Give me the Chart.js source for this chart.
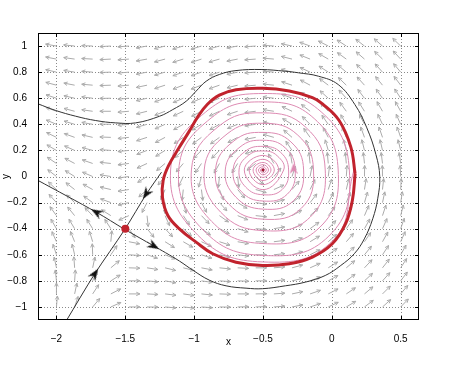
<!DOCTYPE html>
<html>
<head>
<meta charset="utf-8">
<script src="https://cdn.jsdelivr.net/npm/chart.js@4.4.0/dist/chart.umd.min.js"></script>
<style>
  html, body { margin: 0; padding: 0; background: #fff; }
</style>
</head>
<body>
<canvas id="chart" width="461" height="369"></canvas>
<script>
// axis ticks
const xTicks = [-2, -1.5, -1, -0.5, 0, 0.5];
const yTicks = [-1, -0.8, -0.6, -0.4, -0.2, 0, 0.2, 0.4, 0.6, 0.8, 1];

// direction field: grid columns / rows and arrow angle (deg, ccw) read per cell
const fieldX = [-2.000, -1.868, -1.737, -1.605, -1.474, -1.342, -1.211, -1.079, -0.947, -0.816,
                -0.684, -0.553, -0.421, -0.289, -0.158, -0.026, 0.105, 0.237, 0.368, 0.500];
const fieldY = [1.0, 0.9, 0.8, 0.7, 0.6, 0.5, 0.4, 0.3, 0.2, 0.1, 0.0,
                -0.1, -0.2, -0.3, -0.4, -0.5, -0.6, -0.7, -0.8, -0.9, -1.0];
const fieldDeg = [
  [170,174,178,183,184,190,194,196,197,195,190,184,176,168,160,153,147,142,139,136],
  [169,172,177,183,184,190,195,197,198,196,191,184,175,166,158,150,144,139,136,133],
  [167,171,176,182,185,191,196,199,199,198,192,184,175,165,155,147,140,136,132,130],
  [165,169,175,182,185,192,198,201,201,199,194,185,174,162,152,143,136,132,129,127],
  [162,167,173,181,185,193,199,203,204,202,196,186,173,159,148,138,132,127,125,123],
  [160,165,172,180,185,194,201,205,207,205,198,187,171,155,142,133,126,122,120,119],
  [157,163,170,179,185,196,204,209,211,209,202,188,168,149,135,125,120,117,115,114],
  [154,160,167,178,186,198,208,214,217,216,208,191,164,139,125,117,112,110,109,109],
  [150,156,165,176,186,201,212,220,225,225,218,197,153,124,112,106,104,104,103,104],
  [146,152,161,174,187,205,220,230,237,241,239,218,120, 99, 96, 95, 95, 96, 97, 98],
  [142,148,157,171,188,212,230,244,255,264,276,314, 50, 72, 79, 83, 86, 89, 91, 93],
  [137,142,151,167,189,222,247,264,277,291,310,344, 24, 50, 64, 72, 77, 81, 84, 87],
  [132,136,144,160,193,243,270,285,298,312,329,351, 15, 37, 52, 62, 69, 74, 78, 81],
  [126,129,134,148,204,276,294,304,314,325,338,354, 11, 29, 43, 53, 61, 67, 72, 76],
  [120,121,122,123,305,309,313,318,325,333,343,355,  9, 23, 36, 47, 55, 61, 66, 71],
  [114,112,107, 85,349,330,328,330,335,342,350,358,  7, 20, 31, 41, 49, 56, 61, 66],
  [108,103, 92, 56,356,342,338,339,342,348,353,359,  6, 17, 27, 36, 44, 51, 57, 61],
  [102, 94, 78, 40,358,351,346,346,349,354,357,  0,  5, 15, 24, 32, 40, 47, 52, 57],
  [ 96, 86, 66, 32,  0,355,350,350,352,356,358,  0,  5, 13, 21, 29, 37, 43, 48, 53],
  [ 90, 78, 57, 27,  0,357,353,352,354,358,  0,  1,  4, 12, 19, 27, 34, 40, 45, 50],
  [ 85, 72, 50, 24,  0,359,355,354,356,359,  1,  2,  4, 11, 18, 25, 31, 37, 42, 46]
];

// equilibria
const saddleX = [-1.5], saddleY = [-0.4];
const focusX = [-0.5], focusY = [0.05];

// limit cycle (red)
const cycleX = [0.169, 0.149, 0.100, 0.003, -0.141, -0.309, -0.503, -0.696, -0.865, -0.986, -1.107, -1.191,
                -1.230, -1.225, -1.185, -1.110, -1.035, -0.975, -0.905, -0.817, -0.696, -0.503, -0.309,
                -0.141, -0.068, 0.053, 0.138, 0.169];
const cycleY = [0.021, -0.184, -0.362, -0.516, -0.618, -0.669, -0.682, -0.657, -0.592, -0.503, -0.401, -0.299,
                -0.160, -0.030, 0.085, 0.220, 0.348, 0.455, 0.552, 0.624, 0.665, 0.676, 0.655,
                0.605, 0.557, 0.429, 0.225, 0.021];

// spiral leaving the focus (pink)
const spiralX = [
  -0.487, -0.500, -0.519, -0.500,  -0.476, -0.500, -0.533, -0.500,
  -0.460, -0.500, -0.550, -0.500,  -0.442, -0.500, -0.572, -0.500,
  -0.418, -0.500, -0.601, -0.500,  -0.386, -0.500, -0.636, -0.500,
  -0.350, -0.397, -0.500, -0.606, -0.674, -0.625, -0.500, -0.360,
  -0.314, -0.372, -0.500, -0.633, -0.717, -0.657, -0.500, -0.324,
  -0.266, -0.339, -0.500, -0.667, -0.774, -0.697, -0.500, -0.278,
  -0.205, -0.297, -0.500, -0.711, -0.845, -0.748, -0.500, -0.222,
  -0.133, -0.247, -0.500, -0.761, -0.927, -0.807, -0.500, -0.158,
  -0.048, -0.190, -0.500, -0.819, -1.020, -0.873, -0.500, -0.086,
   0.046, -0.128, -0.500, -0.877, -1.112, -0.935, -0.500, -0.021,
   0.127, -0.078, -0.500, -0.919, -1.171, -0.973, -0.500,  0.009,
   0.161];
const spiralY = [
  0.050, 0.064, 0.050, 0.027,  0.050, 0.075, 0.050, 0.012,
  0.050, 0.091, 0.050, -0.007, 0.050, 0.108, 0.050, -0.031,
  0.050, 0.132, 0.050, -0.063, 0.050, 0.162, 0.050, -0.101,
  0.050, 0.159, 0.196, 0.162, 0.050, -0.082, -0.140, -0.099,
  0.050, 0.185, 0.231, 0.190, 0.050, -0.116, -0.188, -0.136,
  0.050, 0.220, 0.278, 0.226, 0.050, -0.158, -0.250, -0.185,
  0.050, 0.265, 0.338, 0.273, 0.050, -0.212, -0.327, -0.244,
  0.050, 0.317, 0.408, 0.326, 0.050, -0.274, -0.415, -0.312,
  0.050, 0.378, 0.488, 0.387, 0.050, -0.344, -0.514, -0.388,
  0.050, 0.444, 0.572, 0.448, 0.050, -0.410, -0.605, -0.456,
  0.050, 0.496, 0.636, 0.492, 0.050, -0.450, -0.655, -0.489,
  0.050];

// saddle separatrices (black)
const stableX = [-1.927, -1.722, -1.504, -1.346, -1.237];
const stableY = [-1.103, -0.746, -0.406, -0.133, 0.033];
const leftX = [-1.504, -1.710, -2.134];
const leftY = [-0.406, -0.274, -0.030];
const outerX = [-1.504, -1.400, -1.293, -1.208, -1.107, -1.010, -0.889, -0.768, -0.623, -0.503, -0.338, -0.193,
                -0.048, 0.065, 0.163, 0.236, 0.297, 0.333, 0.348, 0.320, 0.254, 0.167, 0.046, -0.098,
                -0.243, -0.339, -0.514, -0.696, -0.817, -0.913, -0.986, -1.058, -1.155, -1.251, -1.425,
                -1.570, -1.715, -1.860, -2.005, -2.134];
const outerY = [-0.406, -0.468, -0.533, -0.584, -0.648, -0.718, -0.795, -0.838, -0.856, -0.860, -0.838, -0.810,
                -0.759, -0.682, -0.592, -0.478, -0.324, -0.171, 0.000, 0.169, 0.373, 0.552, 0.705, 0.769,
                0.795, 0.807, 0.820, 0.812, 0.782, 0.730, 0.654, 0.577, 0.513, 0.462, 0.411,
                0.411, 0.429, 0.462, 0.506, 0.557];

// arrowheads on the separatrices and on the spiral
const headX = [-1.710, -1.293, -1.722, -1.348];
const headY = [-0.274, -0.533, -0.746, -0.133];
const headDeg = [150, 330, 57, 236];
const pinkHeadX = [-0.278], pinkHeadY = [0.061], pinkHeadDeg = [90];

const RED = '#c1232d';
const PINK = 'rgb(221,138,178)';
const INK = '#333333';
const FONT = '"Liberation Sans", Arial, Helvetica, sans-serif';

const pts = (xs, ys) => xs.map((x, i) => ({ x, y: ys[i] }));
const minus = v => (v < 0 ? '\u2212' : '') + Math.abs(v);

function dart(color, len, wid) {
    const c = document.createElement('canvas');
    c.width = len;
    c.height = wid;
    const g = c.getContext('2d');
    g.fillStyle = color;
    g.beginPath();
    g.moveTo(len, wid / 2);
    g.lineTo(0, 0);
    g.lineTo(len * 0.32, wid / 2);
    g.lineTo(0, wid);
    g.closePath();
    g.fill();
    return c;
}

const framePlugin = {
    id: 'framePlugin',
    beforeDatasetsDraw(chart) {
        const { ctx, chartArea: a, scales: { x, y } } = chart;
        ctx.save();
        // dotted grid
        ctx.strokeStyle = '#8a8a8a';
        ctx.lineWidth = 1;
        ctx.setLineDash([1, 2]);
        xTicks.forEach(v => {
            const px = Math.round(x.getPixelForValue(v)) + 0.5;
            ctx.beginPath(); ctx.moveTo(px, a.top); ctx.lineTo(px, a.bottom); ctx.stroke();
        });
        yTicks.forEach(v => {
            const py = Math.round(y.getPixelForValue(v)) + 0.5;
            ctx.beginPath(); ctx.moveTo(a.left, py); ctx.lineTo(a.right, py); ctx.stroke();
        });
        ctx.setLineDash([]);

        // quiver arrows, tail on the grid point
        ctx.strokeStyle = '#ababab';
        const L = 11, W = 4, spread = 0.45;
        fieldY.forEach((fy, i) => {
            fieldX.forEach((fx, j) => {
                const t = fieldDeg[i][j] * Math.PI / 180;
                const x0 = x.getPixelForValue(fx);
                const y0 = y.getPixelForValue(fy);
                const x1 = x0 + L * Math.cos(t);
                const y1 = y0 - L * Math.sin(t);
                ctx.beginPath();
                ctx.moveTo(x0, y0);
                ctx.lineTo(x1, y1);
                ctx.moveTo(x1 + W * Math.cos(t + Math.PI - spread), y1 - W * Math.sin(t + Math.PI - spread));
                ctx.lineTo(x1, y1);
                ctx.lineTo(x1 + W * Math.cos(t + Math.PI + spread), y1 - W * Math.sin(t + Math.PI + spread));
                ctx.stroke();
            });
        });
        ctx.restore();
    },
    afterDraw(chart) {
        const { ctx, chartArea: a, scales: { x, y } } = chart;
        ctx.save();
        ctx.strokeStyle = '#000';
        ctx.lineWidth = 1;
        ctx.strokeRect(a.left + 0.5, a.top + 0.5, a.right - a.left - 1, a.bottom - a.top - 1);
        const tl = 4;
        ctx.beginPath();
        xTicks.forEach(v => {
            const px = Math.round(x.getPixelForValue(v)) + 0.5;
            ctx.moveTo(px, a.bottom); ctx.lineTo(px, a.bottom - tl);
            ctx.moveTo(px, a.top); ctx.lineTo(px, a.top + tl);
        });
        yTicks.forEach(v => {
            const py = Math.round(y.getPixelForValue(v)) + 0.5;
            ctx.moveTo(a.left, py); ctx.lineTo(a.left + tl, py);
            ctx.moveTo(a.right, py); ctx.lineTo(a.right - tl, py);
        });
        ctx.stroke();
        ctx.restore();
    }
};

new Chart(document.getElementById('chart'), {
    type: 'scatter',
    data: {
        datasets: [
            { data: pts(saddleX, saddleY), pointRadius: 4, backgroundColor: RED, borderWidth: 0, order: 0 },
            { data: pts(focusX, focusY), pointRadius: 1.6, backgroundColor: '#a0102e', borderWidth: 0, order: 1 },
            { data: pts(headX, headY), pointStyle: dart('#111', 12, 9), rotation: headDeg.map(d => -d),
              pointRadius: 5, order: 2 },
            { data: pts(pinkHeadX, pinkHeadY), pointStyle: dart(PINK, 11, 8), rotation: pinkHeadDeg.map(d => -d),
              pointRadius: 5, order: 3 },
            { data: pts(stableX, stableY), showLine: true, borderColor: INK, borderWidth: 1, pointRadius: 0,
              tension: 0.3, order: 4 },
            { data: pts(leftX, leftY), showLine: true, borderColor: INK, borderWidth: 1, pointRadius: 0,
              tension: 0.3, order: 5 },
            { data: pts(outerX, outerY), showLine: true, borderColor: INK, borderWidth: 1, pointRadius: 0,
              tension: 0.4, order: 6 },
            { data: pts(cycleX, cycleY), showLine: true, borderColor: RED, borderWidth: 3, pointRadius: 0,
              tension: 0.4, order: 7 },
            { data: pts(spiralX, spiralY), showLine: true, borderColor: PINK, borderWidth: 1, pointRadius: 0,
              tension: 0.45, order: 8 }
        ]
    },
    options: {
        responsive: false,
        animation: false,
        devicePixelRatio: 1,
        events: [],
        layout: { padding: { left: 0, right: 42, top: 33, bottom: 0 } },
        plugins: { legend: { display: false }, tooltip: { enabled: false } },
        scales: {
            x: {
                type: 'linear',
                min: -2.134,
                max: 0.633,
                afterBuildTicks: s => { s.ticks = xTicks.map(v => ({ value: v })); },
                afterFit: s => { s.height = 49; },
                grid: { display: false },
                border: { display: false },
                ticks: { callback: minus, color: '#000', padding: 5, maxRotation: 0,
                         font: { family: FONT, size: 10 } },
                title: { display: true, text: 'x', color: '#000', padding: { top: 0, bottom: 21 },
                         font: { family: FONT, size: 10 } }
            },
            y: {
                type: 'linear',
                min: -1.1,
                max: 1.1,
                afterBuildTicks: s => { s.ticks = yTicks.map(v => ({ value: v })); },
                afterFit: s => { s.width = 38; },
                grid: { display: false },
                border: { display: false },
                ticks: { callback: minus, color: '#000', padding: 3,
                         font: { family: FONT, size: 10 } },
                title: { display: true, text: 'y', color: '#000', padding: { top: 0, bottom: 0 },
                         font: { family: FONT, size: 10 } }
            }
        }
    },
    plugins: [framePlugin]
});
</script>
</body>
</html>
